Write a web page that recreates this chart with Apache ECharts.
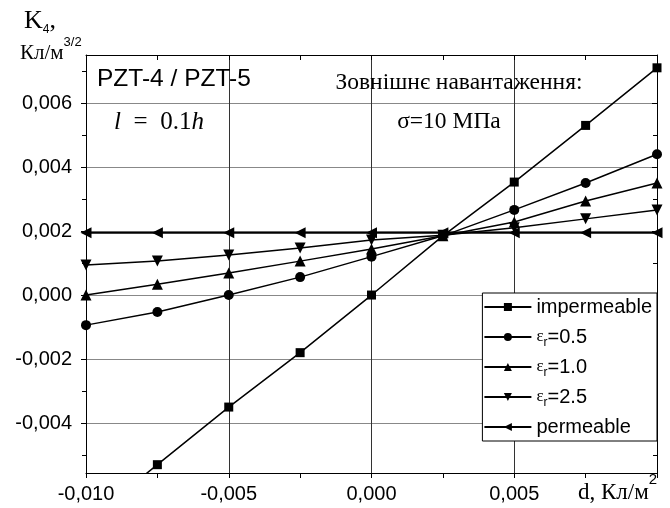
<!DOCTYPE html>
<html>
<head>
<meta charset="utf-8">
<script src="https://cdn.jsdelivr.net/npm/echarts@6/dist/echarts.min.js"></script>
<style>
html, body { margin: 0; padding: 0; background: #fff; }
#main { width: 670px; height: 508px; }
</style>
</head>
<body>
<div id="main"></div>
<script>
// дані
var xVals = [-0.010, -0.0075, -0.005, -0.0025, 0.000, 0.0025, 0.005, 0.0075, 0.010];
var impermeable = [-0.0071, -0.0053, -0.0035, -0.0018, 0.0000, 0.00185, 0.00353, 0.0053, 0.0071];
var eps05 = [-0.00094, -0.00053, 0.0000, 0.00056, 0.0012, 0.00185, 0.00266, 0.0035, 0.0044];
var eps10 = [0.0000, 0.00034, 0.00069, 0.00106, 0.00144, 0.00185, 0.00228, 0.00294, 0.0035];
var eps25 = [0.00094, 0.00106, 0.00125, 0.00147, 0.00172, 0.00187, 0.0021, 0.00238, 0.00266];
var permeable = [0.00195, 0.00195, 0.00195, 0.00195, 0.00195, 0.00195, 0.00195, 0.00195, 0.00195];
var yMajor = [-0.004, -0.002, 0.000, 0.002, 0.004, 0.006];
var yMinor = [-0.005, -0.003, -0.001, 0.001, 0.003, 0.005, 0.007];

var sans = '"Liberation Sans", Arial, sans-serif';
var serif = '"Liberation Serif", "Times New Roman", serif';

var myChart = echarts.init(document.getElementById('main'));

function fmt(v) {
    return v.toFixed(3).replace('.', ',');
}

function makeSeries(name, vals, symbol, rot, size, width) {
    return {
        name: name,
        type: 'line',
        data: xVals.map(function (x, i) { return [x, vals[i]]; }),
        symbol: symbol,
        symbolRotate: rot,
        symbolSize: size,
        showAllSymbol: true,
        lineStyle: { color: '#000', width: width },
        itemStyle: { color: '#000' },
        emphasis: { disabled: true }
    };
}

// y-осі: основні та проміжні поділки
function yAx(pos, ticks, len, inside, withLine, withLabels) {
    return {
        type: 'value',
        position: pos,
        min: -0.00556,
        max: 0.0075,
        axisLine: { show: withLine, onZero: false, lineStyle: { color: '#000', width: 1 } },
        axisTick: { show: true, inside: inside, length: len, customValues: ticks, lineStyle: { color: '#000' } },
        splitLine: withLabels ? { show: true, lineStyle: { color: '#888', width: 1 } } : { show: false },
        axisLabel: withLabels
            ? { customValues: ticks, color: '#000', fontSize: 20, fontFamily: sans, margin: 14, formatter: fmt }
            : { show: false }
    };
}

var legendNames = {
    'impermeable': 'impermeable',
    'e05': '{e|ε}{r|r}{t|=0.5}',
    'e10': '{e|ε}{r|r}{t|=1.0}',
    'e25': '{e|ε}{r|r}{t|=2.5}',
    'permeable': 'permeable'
};

var option = {
    animation: false,
    backgroundColor: '#fff',
    grid: { left: 86, right: 13, top: 55, bottom: 35 },
    xAxis: [{
        type: 'value',
        position: 'bottom',
        min: -0.010,
        max: 0.010,
        interval: 0.005,
        axisLine: { show: true, onZero: false, lineStyle: { color: '#000', width: 1 } },
        axisTick: { show: true, inside: false, length: 5, lineStyle: { color: '#000' } },
        minorTick: { show: true, splitNumber: 2, length: 5, lineStyle: { color: '#000' } },
        splitLine: { show: true, lineStyle: { color: '#333', width: 1 } },
        axisLabel: {
            color: '#000', fontSize: 20, fontFamily: sans, margin: 11,
            formatter: function (v) { return Math.abs(v - 0.01) < 1e-9 ? '' : fmt(v); }
        }
    }, {
        type: 'value',
        position: 'top',
        min: -0.010,
        max: 0.010,
        interval: 0.005,
        axisLine: { show: true, onZero: false, lineStyle: { color: '#000', width: 1 } },
        axisTick: { show: true, inside: true, length: 5, lineStyle: { color: '#000' } },
        minorTick: { show: true, splitNumber: 2, length: 5, lineStyle: { color: '#000' } },
        splitLine: { show: false },
        axisLabel: { show: false }
    }],
    yAxis: [
        yAx('left', yMajor, 5, false, true, true),
        yAx('left', yMinor, 4, false, false, false),
        yAx('right', yMajor, 5, true, true, false),
        yAx('right', yMinor, 4, true, false, false)
    ],
    legend: {
        orient: 'vertical',
        right: 13,
        top: 293,
        backgroundColor: '#fff',
        borderColor: '#000',
        borderWidth: 1,
        borderRadius: 0,
        padding: [2, 5, 2, 1],
        itemWidth: 47,
        itemHeight: 10,
        itemGap: 6,
        data: ['impermeable', 'e05', 'e10', 'e25', 'permeable'],
        formatter: function (name) { return legendNames[name]; },
        textStyle: {
            color: '#000', fontSize: 20, fontFamily: sans, lineHeight: 24,
            rich: {
                e: { fontSize: 17, fontFamily: serif, lineHeight: 24, verticalAlign: 'middle' },
                r: { fontSize: 12, fontFamily: sans, lineHeight: 10, verticalAlign: 'bottom' },
                t: { fontSize: 20, fontFamily: sans, lineHeight: 24, verticalAlign: 'middle' }
            }
        }
    },
    graphic: [
        { type: 'text', x: 97, y: 67, z: 100, style: { text: 'PZT-4 / PZT-5', fontSize: 24.5, fontFamily: sans, fill: '#000' } },
        { type: 'text', x: 159, y: 122, z: 100, style: {
            text: '{i|l}  =  0.1{i|h}', fontSize: 25, fontFamily: serif, fill: '#000', align: 'center', verticalAlign: 'middle',
            rich: { i: { fontSize: 25, fontFamily: serif, fontStyle: 'italic' } }
        } },
        { type: 'text', x: 459, y: 83, z: 100, style: { text: 'Зовнішнє навантаження:', fontSize: 23.5, fontFamily: serif, fill: '#000', align: 'center', verticalAlign: 'middle' } },
        { type: 'text', x: 449, y: 122, z: 100, style: { text: 'σ=10 МПа', fontSize: 23.5, fontFamily: serif, fill: '#000', align: 'center', verticalAlign: 'middle' } },
        { type: 'text', x: 24, y: 6, z: 100, style: {
            text: '{k|K}{s|4}{k|,}', fill: '#000',
            rich: {
                k: { fontSize: 26, fontFamily: serif, lineHeight: 30, verticalAlign: 'middle' },
                s: { fontSize: 12, fontFamily: sans, lineHeight: 12, verticalAlign: 'bottom' }
            }
        } },
        { type: 'text', x: 20, y: 36, z: 100, style: {
            text: '{m|Кл/м}{p|3/2}', fill: '#000',
            rich: {
                m: { fontSize: 21, fontFamily: serif, lineHeight: 28, verticalAlign: 'bottom' },
                p: { fontSize: 13, fontFamily: sans, lineHeight: 13, verticalAlign: 'top' }
            }
        } },
        { type: 'text', x: 578, y: 472, z: 100, style: {
            text: '{m|d, Кл/м}{p|2}', fill: '#000',
            rich: {
                m: { fontSize: 23, fontFamily: serif, lineHeight: 32, verticalAlign: 'bottom' },
                p: { fontSize: 15, fontFamily: sans, lineHeight: 15, verticalAlign: 'top' }
            }
        } }
    ],
    series: [
        makeSeries('impermeable', impermeable, 'rect', 0, 9, 1.5),
        makeSeries('e05', eps05, 'circle', 0, 10, 1.5),
        makeSeries('e10', eps10, 'triangle', 0, 11, 1.5),
        makeSeries('e25', eps25, 'triangle', 180, 11, 1.5),
        makeSeries('permeable', permeable, 'triangle', 90, 11, 2)
    ]
};

myChart.setOption(option);
</script>
</body>
</html>
